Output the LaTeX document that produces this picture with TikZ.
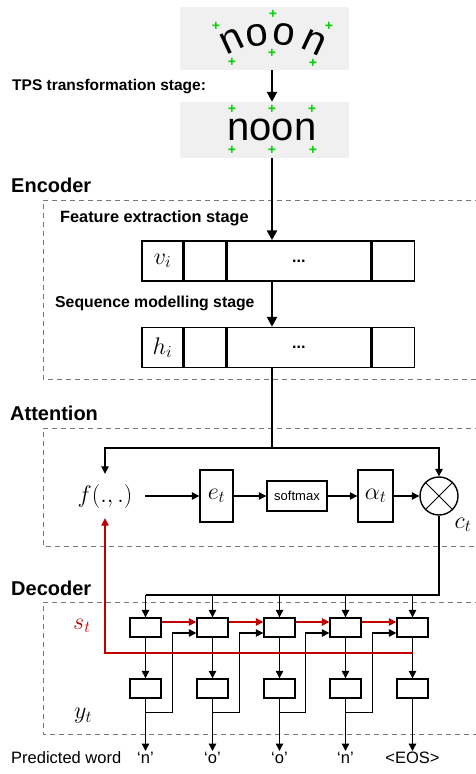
\RequirePackage{fix-cm}
\documentclass[tikz,border=0pt]{standalone}
\usepackage{fontspec}
\setmainfont{Liberation Sans}
\usetikzlibrary{positioning,arrows.meta}

\definecolor{attnred}{RGB}{192,0,0}
\definecolor{ptgreen}{RGB}{0,210,0}
\definecolor{imggray}{RGB}{240,240,240}
\definecolor{boxgray}{RGB}{120,120,120}

\newcommand{\bigmath}[1]{\fontsize{24}{26}\selectfont$#1$}

\begin{document}
\begin{tikzpicture}[x=1pt,y=-1pt,
        >={Triangle[length=7.5pt,width=7.5pt]},
        flow/.style={line width=1.3pt},
        trunk/.style={line width=2.6pt},
        redflow/.style={line width=1.3pt, draw=attnred},
        cell/.style={rectangle, draw=black, line width=1.4pt, minimum height=40pt, inner sep=0pt},
        unit/.style={rectangle, draw=black, line width=1.4pt, minimum width=31pt, minimum height=19pt, inner sep=0pt},
        opbox/.style={rectangle, draw=black, line width=1.4pt, inner sep=0pt},
        imgbox/.style={rectangle, fill=imggray, minimum width=169pt, inner sep=0pt},
        stagebox/.style={draw=boxgray, dash pattern=on 5pt off 4pt, line width=1pt},
        title/.style={font=\fontsize{20}{24}\selectfont\bfseries, anchor=west, inner sep=0pt},
        stage/.style={font=\fontsize{15.8}{18}\selectfont\bfseries, anchor=west, inner sep=0pt},
        letter/.style={font=\fontsize{40}{44}\selectfont, inner sep=0pt},
        gplus/.style={font=\fontsize{14}{15}\selectfont\bfseries, text=ptgreen, inner sep=0pt},
        word/.style={font=\fontsize{16.5}{19}\selectfont, inner sep=0pt, text height=12pt, text depth=3pt},
    ]
    \useasboundingbox (0,0) rectangle (476,774);

    % input image and rectified image
    \node[imgbox, minimum height=63pt] (img1) at (264.5,38.5) {};
    \node[imgbox, minimum height=56pt] (img2) at (264.5,130) {};
    \node[letter, rotate=25] (c1) at (232,41) {n};
    \node[letter, rotate=8] (c2) at (257,35) {o};
    \node[letter, rotate=-8] (c3) at (284,35) {o};
    \node[letter, rotate=-25] (c4) at (314,42) {n};
    \node[letter] (noon) at (272,130) {noon};
    \foreach \p in {(273,14),(216,26),(329,26),(232,62),(272,53),(313,63),
                    (232,109),(272,109),(312,109),(232,150),(272,150),(313,150)}
        \node[gplus] at \p {+};

    \coordinate (trunk) at (272,0);
    \draw[trunk,-{Triangle[length=10pt,width=10pt]}] (img1.south -| trunk) -- (img2.north -| trunk);
    \node[stage, font=\fontsize{15.5}{18}\selectfont\bfseries] (tps) at (12,87) {TPS transformation stage:};

    % encoder
    \node[title] (enc) at (11,185) {Encoder};
    \draw[stagebox] (480,200) -| (43,379) -- (480,379);
    \node[stage, font=\fontsize{16.3}{18}\selectfont\bfseries] (fes) at (60,218) {Feature extraction stage};
    \node[cell, minimum width=41pt] (v1) at (162.5,261) {\bigmath{v_i}};
    \node[cell, minimum width=41pt, right=0pt of v1] (v2) {};
    \node[cell, minimum width=144pt, right=0pt of v2] (v3) {\fontsize{16}{18}\selectfont\bfseries ...};
    \node[cell, minimum width=42pt, right=0pt of v3] (v4) {};
    \node[stage] (sms) at (55,303) {Sequence modelling stage};
    \node[cell, minimum width=41pt] (h1) at (162.5,347.5) {\bigmath{h_i}};
    \node[cell, minimum width=41pt, right=0pt of h1] (h2) {};
    \node[cell, minimum width=144pt, right=0pt of h2] (h3) {\fontsize{16}{18}\selectfont\bfseries ...};
    \node[cell, minimum width=42pt, right=0pt of h3] (h4) {};
    \draw[trunk,-{Triangle[length=10pt,width=10pt]}] (img2.south -| trunk) -- (v3.north -| trunk);
    \draw[trunk,-{Triangle[length=10pt,width=10pt]}] (v3.south -| trunk) -- (h3.north -| trunk);

    % attention
    \node[title] (att) at (10,413) {Attention};
    \draw[stagebox] (480,428) -| (43,546) -- (480,546);
    \node[minimum width=80pt, minimum height=44pt, inner sep=0pt] (f) at (105,496) {\bigmath{f(.,.)}};
    \node[opbox, minimum width=33pt, minimum height=52pt] (et) at (216.5,496) {\bigmath{e_t}};
    \node[opbox, minimum width=60pt, minimum height=30pt, font=\fontsize{13}{15}\selectfont] (soft) at (297,496) {softmax};
    \node[opbox, minimum width=35pt, minimum height=52pt] (alpha) at (375.5,496) {\bigmath{\alpha_t}};
    \node[circle, draw=black, line width=1.4pt, minimum size=38pt, inner sep=0pt] (mul) at (439,496) {};
    \draw[line width=1pt] (mul.north east) -- (mul.south west) (mul.north west) -- (mul.south east);
    \node (ct) at (463,525) {\bigmath{c_t}};

    \coordinate (asplit) at (272,448);
    \draw[trunk] (h3.south -| trunk) -- (asplit);
    \draw[flow,->] (asplit) -| (f.north);
    \draw[flow,->] (asplit) -| (mul.north);
    \draw[flow,->] (f) -- (et);
    \draw[flow,->] (et) -- (soft);
    \draw[flow,->] (soft) -- (alpha);
    \draw[flow,->] (alpha) -- (mul);

    % decoder
    \node[title] (dec) at (11,588) {Decoder};
    \draw[stagebox] (480,602) -| (43,734) -- (480,734);
    \coordinate (wline) at (0,751);
    \foreach \x [count=\i] in {145.5,212.5,279.5,345.5,412.5} {
        \node[unit] (s\i) at (\x,627.5) {};
        \node[unit] (o\i) at (\x,688.5) {};
    }
    \foreach \w [count=\i] in {‘n’,‘o’,‘o’,‘n’,<EOS>}
        \node[word, anchor=north] (w\i) at (s\i |- wline) {\w};
    \node[word, anchor=base west] (pw) at (w1.base -| 11,0) {Predicted word};
    \node[text=attnred] (st) at (82,626) {\bigmath{s_t}};
    \node (yt) at (83,716) {\bigmath{y_t}};

    \coordinate (dsplit) at (145.5,595);
    \draw[flow] (mul.south) |- (dsplit);
    \foreach \i in {1,...,5} {
        \draw[flow,->] (dsplit -| s\i) -- (s\i.north);
        \draw[flow,->] (s\i) -- (o\i);
        \draw[flow,->] (o\i) -- (w\i);
    }
    \foreach \i [count=\j from 2] in {1,...,4} {
        \draw[redflow,->] ([yshift=5.5pt]s\i.east) -- ([yshift=5.5pt]s\j.west);
        \draw[flow,->] (o\i.south) ++(0,14) -| ([xshift=-24pt,yshift=-5.5pt]s\j.west) -- ([yshift=-5.5pt]s\j.west);
    }
    \coordinate (fb) at (0,653);
    \draw[redflow,->] (s5 |- fb) -| (f.south);
\end{tikzpicture}
\end{document}
